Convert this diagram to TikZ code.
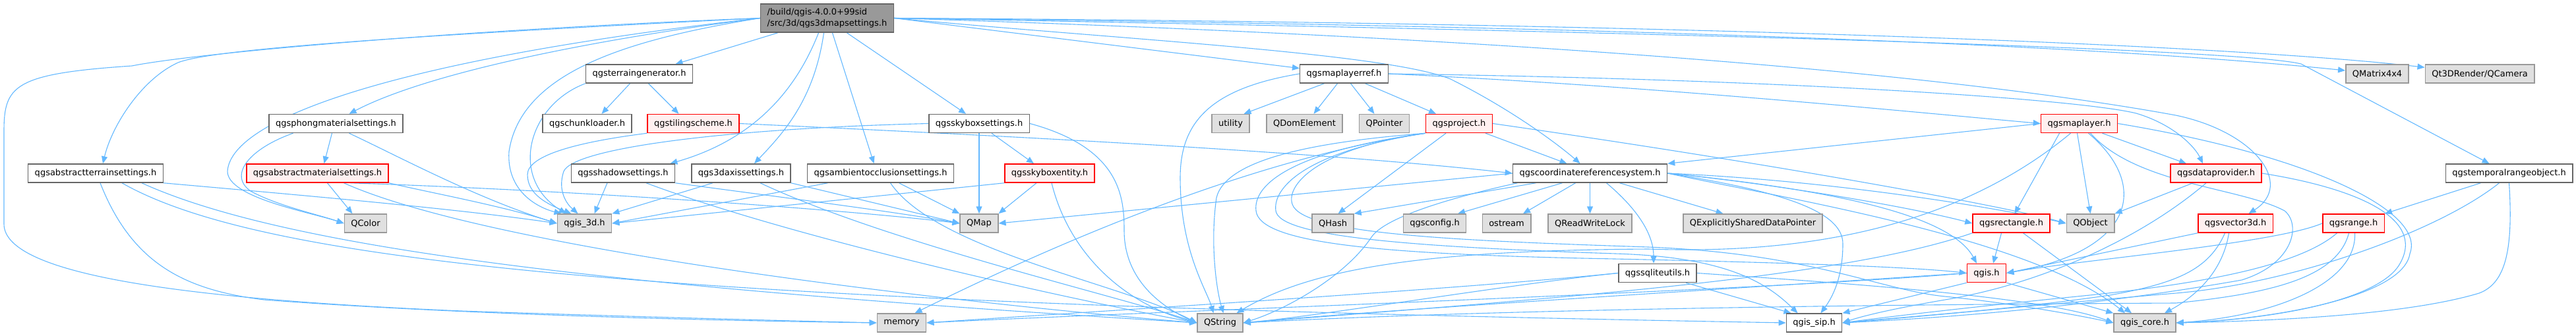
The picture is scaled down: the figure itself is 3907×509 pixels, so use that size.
\documentclass[tikz,border=0pt]{standalone}
\usepackage{fontspec}
\newfontfamily\dvfont{DejaVu Sans}
\usetikzlibrary{arrows.meta}
\definecolor{edgec}{HTML}{63B8FF}
\definecolor{c666}{HTML}{666666}
\definecolor{c999}{HTML}{999999}
\definecolor{cEE}{HTML}{E0E0E0}
\definecolor{cpink}{HTML}{FFF0F0}
\definecolor{cred}{HTML}{FF0000}
\pgfdeclarelayer{bg}
\pgfsetlayers{bg,main}
\tikzset{
  nbase/.style={draw, line width=1.5pt, minimum height=28pt, inner xsep=10pt, inner ysep=4pt, font=\dvfont\fontsize{13}{16.7}\selectfont},
  wn/.style={nbase, draw=c666, fill=white},
  gn/.style={nbase, draw=c999, fill=cEE},
  rn/.style={nbase, draw=cred, fill=cpink},
  rootn/.style={nbase, draw=c666, fill=c999, align=left, inner ysep=7pt},
  e/.style={draw=edgec, line width=1.1pt, -{Triangle[length=11pt,width=9pt]}},
}
\begin{document}
\begin{tikzpicture}[x=1pt,y=-1pt]
\useasboundingbox (0,0) rectangle (3907,509);
% row 1
\node[rootn] (R) at (1254.5,27.5) {/build/qgis-4.0.0+99sid\\/src/3d/qgs3dmapsettings.h};
% row 2
\node[wn] (TG) at (969.5,112) {qgsterraingenerator.h};
\node[wn] (MLR) at (2038.5,112) {qgsmaplayerref.h};
\node[gn] (QM4) at (3605.5,112) {QMatrix4x4};
\node[gn] (QCAM) at (3761,112) {Qt3DRender/QCamera};
% row 3
\node[wn] (PHG) at (509.5,187.5) {qgsphongmaterialsettings.h};
\node[wn] (CL) at (890.5,187.5) {qgschunkloader.h};
\node[rn] (TS) at (1051.5,187.5) {qgstilingscheme.h};
\node[wn] (SB) at (1485,187.5) {qgsskyboxsettings.h};
\node[gn] (UT) at (1866.5,187.5) {utility};
\node[gn] (QDE) at (1978.5,187.5) {QDomElement};
\node[gn] (QP) at (2099.5,187.5) {QPointer};
\node[rn] (PRJ) at (2213,187.5) {qgsproject.h};
\node[rn] (MLY) at (3153.5,187.5) {qgsmaplayer.h};
% row 4
\node[wn] (ATS) at (145,263) {qgsabstractterrainsettings.h};
\node[rn] (AMS) at (481.5,263) {qgsabstractmaterialsettings.h};
\node[wn] (SH) at (945,263) {qgsshadowsettings.h};
\node[wn] (AX) at (1124,263) {qgs3daxissettings.h};
\node[wn] (AO) at (1335.5,263) {qgsambientocclusionsettings.h};
\node[rn] (SBE) at (1592,263) {qgsskyboxentity.h};
\node[wn] (CRS) at (2411.5,263) {qgscoordinatereferencesystem.h};
\node[rn] (DP) at (3361,263) {qgsdataprovider.h};
\node[wn] (TRO) at (3805.5,263) {qgstemporalrangeobject.h};
% row 5
\node[gn] (QColor) at (554.5,339) {QColor};
\node[gn] (Q3D) at (886.5,339) {qgis\_3d.h};
\node[gn] (QMap) at (1485,339) {QMap};
\node[gn] (QHash) at (2021.5,339) {QHash};
\node[gn] (CFG) at (2176,339) {qgsconfig.h};
\node[gn] (OST) at (2285,339) {ostream};
\node[gn] (RWL) at (2411.5,339) {QReadWriteLock};
\node[gn] (QESDP) at (2658.5,339) {QExplicitlySharedDataPointer};
\node[rn] (RECT) at (3050.5,339) {qgsrectangle.h};
\node[gn] (QObj) at (3170.5,339) {QObject};
\node[rn] (V3D) at (3390.5,339) {qgsvector3d.h};
\node[rn] (RNG) at (3569.5,339) {qgsrange.h};
% row 6
\node[wn] (SQL) at (2514,414.5) {qgssqliteutils.h};
\node[rn] (QGIS) at (3013,414.5) {qgis.h};
% row 7
\node[gn] (MEM) at (1367.5,490) {memory};
\node[gn] (QSTR) at (1850.5,490) {QString};
\node[wn] (SIP) at (2751.5,490) {qgis\_sip.h};
\node[gn] (CORE) at (3253,490) {qgis\_core.h};

\begin{pgfonlayer}{bg}
% root
\draw[e] (R.west) .. controls (700,45) and (300,80) .. (200,100) .. controls (20,112) and (6,130) .. (6,200) -- (6,340) .. controls (6,420) and (300,455) .. (700,472) .. controls (1000,482) and (1200,487) .. (MEM.west);
\draw[e] (R.west) .. controls (600,55) and (320,75) .. (270,95) .. controls (215,120) and (170,190) .. ([xshift=11pt]ATS.north);
\draw[e] (R.west) .. controls (900,60) and (650,110) .. ([xshift=20pt]PHG.north);
\draw[e] (R.west) .. controls (600,90) and (350,180) .. (345,260) .. controls (345,300) and (470,322) .. (QColor.west);
\draw[e] (R.west) .. controls (950,60) and (790,110) .. (772,230) .. controls (768,290) and (815,315) .. ([xshift=-35pt]Q3D.north);
\draw[e] ([xshift=-75pt]R.south) -- ([xshift=55pt]TG.north);
\draw[e] ([xshift=-13pt]R.south) .. controls (1210,130) and (1150,210) .. ([xshift=-8pt]SH.north east);
\draw[e] ([xshift=-5pt]R.south) .. controls (1235,150) and (1190,200) .. ([xshift=20pt]AX.north);
\draw[e] ([xshift=8pt]R.south) -- ([xshift=-10pt]AO.north);
\draw[e] ([xshift=30pt]R.south) -- ([xshift=-20pt]SB.north);
\draw[e] (R.east) -- (MLR);
\draw[e] (R.east) .. controls (1700,60) and (2100,80) .. (2200,120) .. controls (2300,170) and (2370,225) .. ([xshift=-15pt]CRS.north);
\draw[e] (R.east) .. controls (2500,40) and (3200,70) .. (QM4);
\draw[e] (R.east) .. controls (2600,35) and (3400,70) .. (QCAM);
\draw[e] (R.east) .. controls (2600,50) and (3400,75) .. (3490,97) -- ([xshift=-30pt]TRO.north);
\draw[e] (R.east) .. controls (2400,60) and (3000,120) .. (3300,175) .. controls (3420,200) and (3480,280) .. ([xshift=20pt]V3D.north);
% terrain generator
\draw[e] (TG.south west) .. controls (800,160) and (772,270) .. ([xshift=-28pt]Q3D.north);
\draw[e] ([xshift=-14pt]TG.south) -- ([xshift=22pt]CL.north);
\draw[e] ([xshift=14pt]TG.south) -- ([xshift=-22pt]TS.north);
% tiling scheme
\draw[e] (TS.south west) .. controls (880,215) and (800,235) .. (800,265) .. controls (800,295) and (830,310) .. ([xshift=-20pt]Q3D.north);
\draw[e] (TS.east) .. controls (1500,205) and (2000,230) .. (CRS.west);
% skybox settings
\draw[e] (SB.west) .. controls (1100,195) and (870,225) .. (855,260) .. controls (845,290) and (860,310) .. ([xshift=-10pt]Q3D.north);
\draw[e] (SB) -- (QMap);
\draw[e] ([xshift=19pt]SB.south) -- ([xshift=-24pt]SBE.north);
\draw[e] (SB.east) .. controls (1700,225) and (1705,300) .. (1705,350) .. controls (1705,430) and (1770,470) .. (QSTR.west);
% phong
\draw[e] ([xshift=-6pt]PHG.south) -- ([xshift=10pt]AMS.north);
\draw[e] ([xshift=-65pt]PHG.south) .. controls (380,225) and (345,265) .. (380,290) .. controls (420,312) and (480,325) .. (QColor.west);
\draw[e] ([xshift=20pt]PHG.south) .. controls (600,235) and (720,300) .. (Q3D.west);
% abstract material
\draw[e] ([xshift=15pt]AMS.south) -- ([xshift=-20pt]QColor.north);
\draw[e] (AMS.south east) .. controls (650,292) and (760,312) .. (Q3D.west);
\draw[e] ([xshift=40pt]AMS.south) .. controls (750,380) and (1450,460) .. (QSTR.west);
\draw[e] ([xshift=50pt]AMS.south) .. controls (900,290) and (1300,320) .. (QMap.west);
% abstract terrain
\draw[e] (ATS.south east) .. controls (500,300) and (700,318) .. (Q3D.west);
\draw[e] ([xshift=7pt]ATS.south) .. controls (200,400) and (280,440) .. (400,455) .. controls (700,478) and (1100,487) .. (MEM.west);
\draw[e] ([xshift=70pt]ATS.south) .. controls (450,385) and (1000,440) .. (QSTR.west);
\draw[e] ([xshift=40pt]ATS.south) .. controls (400,400) and (1000,460) .. (SIP.west);
% shadow
\draw[e] ([xshift=-24pt]SH.south) -- ([xshift=15pt]Q3D.north);
\draw[e] ([xshift=35pt]SH.south) .. controls (1200,360) and (1600,450) .. (QSTR.west);
\draw[e] (SH.south east) .. controls (1150,295) and (1350,320) .. (QMap.west);
% axis
\draw[e] ([xshift=-43pt]AX.south) -- (Q3D.north east);
\draw[e] ([xshift=29pt]AX.south) .. controls (1350,370) and (1700,450) .. (QSTR.west);
\draw[e] (AX.south east) -- (QMap.west);
% ambient occlusion
\draw[e] ([xshift=-80pt]AO.south) -- (Q3D.east);
\draw[e] ([xshift=28pt]AO.south) -- (QMap.north west);
\draw[e] ([xshift=15pt]AO.south) .. controls (1420,380) and (1700,430) .. (QSTR.west);
% skybox entity
\draw[e] (SBE.south west) -- (Q3D.east);
\draw[e] ([xshift=-20pt]SBE.south) -- (QMap.north east);
\draw[e] ([xshift=3pt]SBE.south) .. controls (1620,380) and (1700,460) .. (QSTR.west);
% map layer ref
\draw[e] ([xshift=-30pt]MLR.south) -- ([xshift=20pt]UT.north);
\draw[e] ([xshift=-10pt]MLR.south) -- ([xshift=14pt]QDE.north);
\draw[e] ([xshift=10pt]MLR.south) -- ([xshift=-15pt]QP.north);
\draw[e] ([xshift=32pt]MLR.south) -- ([xshift=-35pt]PRJ.north);
\draw[e] (MLR.west) .. controls (1830,135) and (1790,190) .. (1790,270) .. controls (1790,380) and (1830,440) .. ([xshift=-10pt]QSTR.north);
\draw[e] (MLR.east) .. controls (2500,130) and (2900,170) .. (MLY.west);
\draw[e] (MLR.east) .. controls (2700,120) and (3150,150) .. (3240,172) .. controls (3300,190) and (3330,225) .. ([xshift=-20pt]DP.north);
% project
\draw[e] ([xshift=40pt]PRJ.south) -- ([xshift=-35pt]CRS.north);
\draw[e] ([xshift=-20pt]PRJ.south) -- ([xshift=8pt]QHash.north);
\draw[e] (PRJ.east) .. controls (2700,250) and (3050,315) .. (QObj.west);
\draw[e] (PRJ.south west) .. controls (1900,240) and (1600,370) .. ([xshift=20pt]MEM.north);
\draw[e] (PRJ.south west) .. controls (2000,215) and (1860,240) .. (1845,300) .. controls (1835,370) and (1845,440) .. ([xshift=5pt]QSTR.north);
\draw[e] (PRJ.south west) .. controls (1960,230) and (1900,280) .. (1905,320) .. controls (1910,370) and (2100,385) .. (2400,392) .. controls (2700,398) and (2900,405) .. (QGIS.west);
\draw[e] (PRJ.south west) .. controls (1980,230) and (1930,285) .. (1935,320) .. controls (1940,360) and (2150,375) .. (2450,385) .. controls (2620,390) and (2680,430) .. ([xshift=-25pt]SIP.north);
\draw[e] (PRJ.south west) .. controls (2000,225) and (1950,280) .. (1960,310) .. controls (1975,355) and (2200,365) .. (2500,375) .. controls (2750,385) and (2850,440) .. (2950,450) .. controls (3050,460) and (3150,478) .. (CORE.west);
% crs
\draw[e] (CRS.west) -- (QMap.east);
\draw[e] ([xshift=-82pt]CRS.south) -- (QHash.north east);
\draw[e] ([xshift=-42pt]CRS.south) -- ([xshift=35pt]CFG.north);
\draw[e] ([xshift=-22pt]CRS.south) -- ([xshift=25pt]OST.north);
\draw[e] (CRS.south) -- (RWL.north);
\draw[e] ([xshift=45pt]CRS.south) -- ([xshift=-45pt]QESDP.north);
\draw[e] ([xshift=25pt]CRS.south) .. controls (2475,310) and (2508,350) .. ([xshift=-6pt]SQL.north);
\draw[e] (CRS.east) .. controls (2700,280) and (2900,315) .. (RECT.west);
\draw[e] (CRS.east) .. controls (2800,275) and (3050,320) .. (QObj.west);
\draw[e] (CRS.east) .. controls (2800,290) and (2960,330) .. ([xshift=-15pt]QGIS.north);
\draw[e] (CRS.east) .. controls (2700,290) and (2795,320) .. (2795,370) .. controls (2795,420) and (2780,450) .. ([xshift=10pt]SIP.north);
\draw[e] (CRS.east) .. controls (2700,300) and (3080,360) .. ([xshift=-30pt]CORE.north);
\draw[e] ([xshift=-110pt]CRS.south) .. controls (2200,300) and (2100,330) .. (2080,360) .. controls (2040,420) and (1950,470) .. (QSTR.east);
% sqlite utils
\draw[e] ([xshift=43pt]SQL.south) -- ([xshift=-35pt]SIP.north);
\draw[e] (SQL.east) .. controls (2800,430) and (3100,450) .. (CORE.west);
\draw[e] (SQL.west) .. controls (2300,430) and (2000,480) .. (QSTR.east);
\draw[e] (SQL.west) .. controls (2200,440) and (1700,470) .. (MEM.east);
% qgis.h
\draw[e] (QGIS.west) .. controls (2700,440) and (1700,475) .. (MEM.east);
\draw[e] (QGIS.west) .. controls (2600,440) and (2100,470) .. (QSTR.east);
\draw[e] (QGIS.south west) -- (SIP.north east);
\draw[e] (QGIS.south east) -- (CORE.north west);
% rectangle
\draw[e] ([xshift=-15pt]RECT.south) -- ([xshift=10pt]QGIS.north);
\draw[e] ([xshift=18pt]RECT.south) -- ([xshift=-20pt]CORE.north);
\draw[e] (RECT.south west) .. controls (2800,420) and (2400,450) .. (QSTR.east);
% map layer
\draw[e] (MLY.west) -- (CRS.north east);
\draw[e] ([xshift=-13pt]MLY.south) .. controls (2950,360) and (2700,385) .. (2500,378) .. controls (2200,380) and (2000,400) .. ([xshift=25pt]QSTR.north);
\draw[e] ([xshift=-30pt]MLY.south) -- ([xshift=5pt]RECT.north);
\draw[e] ([xshift=-3pt]MLY.south) -- (QObj.north);
\draw[e] ([xshift=14pt]MLY.south) .. controls (3260,280) and (3240,380) .. (QGIS.east);
\draw[e] ([xshift=35pt]MLY.south) -- ([xshift=-45pt]DP.north);
\draw[e] (MLY.east) .. controls (3500,235) and (3680,320) .. (3655,385) .. controls (3645,450) and (3450,485) .. (CORE.east);
\draw[e] ([xshift=17pt]MLY.south) .. controls (3240,280) and (3400,285) .. (3465,320) .. controls (3490,340) and (3480,400) .. (3400,425) .. controls (3200,460) and (3000,480) .. (SIP.east);
% data provider
\draw[e] ([xshift=-35pt]DP.south) -- (QObj.north east);
\draw[e] ([xshift=-15pt]DP.south) .. controls (3250,360) and (3100,430) .. (2950,455) .. controls (2880,467) and (2830,478) .. (SIP.east);
\draw[e] (DP.east) .. controls (3570,285) and (3680,330) .. (3640,400) .. controls (3610,455) and (3450,485) .. (CORE.east);
% vector3d
\draw[e] (V3D.south west) -- (QGIS.east);
\draw[e] ([xshift=-10pt]V3D.south) .. controls (3370,420) and (3320,455) .. ([xshift=30pt]CORE.north);
\draw[e] ([xshift=-16pt]V3D.south) .. controls (3350,410) and (3300,430) .. (3200,448) .. controls (3050,470) and (2900,480) .. (SIP.east);
% range
\draw[e] (RNG.west) .. controls (3450,370) and (3150,395) .. (QGIS.east);
\draw[e] ([xshift=-25pt]RNG.south) .. controls (3480,410) and (3300,435) .. (3150,450) .. controls (3000,465) and (2870,480) .. (SIP.east);
\draw[e] ([xshift=-7pt]RNG.south) .. controls (3545,420) and (3450,445) .. (3300,460) .. controls (2900,462) and (2300,468) .. (QSTR.east);
\draw[e] ([xshift=2pt]RNG.south) .. controls (3575,430) and (3450,480) .. (CORE.east);
% temporal range object
\draw[e] ([xshift=-43pt]TRO.south) -- (RNG.north east);
\draw[e] ([xshift=-15pt]TRO.south) .. controls (3700,350) and (3480,430) .. (3300,445) .. controls (3100,462) and (2900,482) .. (SIP.east);
\draw[e] (TRO.south) .. controls (3812,380) and (3800,430) .. (3760,445) .. controls (3650,478) and (3450,487) .. (CORE.east);
\end{pgfonlayer}
\end{tikzpicture}
\end{document}
